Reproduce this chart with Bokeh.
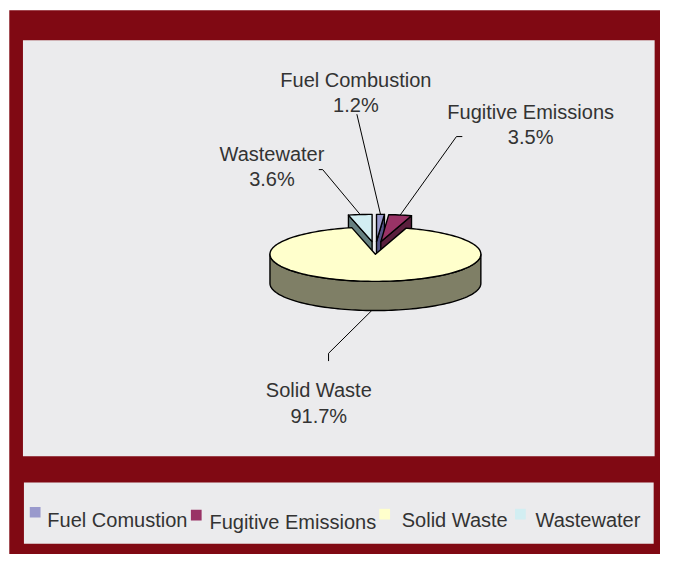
import math
from bokeh.plotting import figure
from bokeh.models import Range1d, ColumnDataSource
from bokeh.core.properties import value
from bokeh.embed import file_html
from bokeh.resources import INLINE

# ---- data ----
categories = ["Fuel Combustion", "Fugitive Emissions", "Solid Waste", "Wastewater"]
legend_labels = ["Fuel Comustion", "Fugitive Emissions", "Solid Waste", "Wastewater"]
shares = [1.2, 3.5, 91.7, 3.6]
exploded = [True, True, False, True]
top_colors = ["#9999CC", "#993366", "#FFFFCC", "#D2EEF2"]
side_colors = ["#55558A", "#5A1F3D", "#7F7F66", "#668080"]

FONT = value("Liberation Sans")
TEXT_COLOR = "#333333"

p = figure(width=660, height=554, output_backend="svg", toolbar_location=None,
           x_range=Range1d(0, 676), y_range=Range1d(570, 0), min_border=0)
p.axis.visible = False
p.grid.visible = False
p.outline_line_color = None
p.background_fill_color = "white"
p.border_fill_color = "white"

# frame and panels
p.quad(left=[9], right=[676], top=[10], bottom=[570], fill_color="#800913", line_color=None)
p.quad(left=[23], right=[670], top=[41], bottom=[469], fill_color="#EBEBED", line_color=None)
p.quad(left=[24], right=[669], top=[496], bottom=[559], fill_color="#EBEBED", line_color=None)

# ---- 3D pie geometry ----
cx, cy, rx, ry, depth = 384.0, 261.0, 108.0, 28.0, 30.0
ex_x, ex_y = 30.0, 13.0   # explosion distance (screen px, x and y)

total = sum(shares)
angles = []
a = 0.0
for v in shares:
    span = v / total * 360.0
    angles.append((a, a + span))
    a += span


def P(theta, r, ox, oy, h):
    t = math.radians(theta)
    return (cx + ox + rx * r * math.sin(t), cy + oy - ry * r * math.cos(t) + h)


def arc(a0, a1, ox, oy, h, n=None):
    if n is None:
        n = max(2, int(abs(a1 - a0) / 2) + 2)
    pts = [P(a0 + (a1 - a0) * k / (n - 1), 1.0, ox, oy, h) for k in range(n)]
    return pts


xs, ys, fills = [], [], []


def add(poly, color):
    xs.append([q[0] for q in poly])
    ys.append([q[1] for q in poly])
    fills.append(color)


info = []
for i, (a0, a1) in enumerate(angles):
    mid = (a0 + a1) / 2
    if exploded[i]:
        ox = ex_x * math.sin(math.radians(mid))
        oy = -ex_y * math.cos(math.radians(mid))
    else:
        ox = oy = 0.0
    info.append((i, a0, a1, mid, ox, oy))

# painter's order: exploded slices from back to front, then the big slice
order = sorted(info, key=lambda s: (not exploded[s[0]], -math.cos(math.radians(s[3]))))

for (i, a0, a1, mid, ox, oy) in order:
    apex_t = (cx + ox, cy + oy)
    apex_b = (cx + ox, cy + oy + depth)
    # radial walls
    if math.sin(math.radians(a0)) < -1e-6:
        add([apex_t, P(a0, 1, ox, oy, 0), P(a0, 1, ox, oy, depth), apex_b], side_colors[i])
    if math.sin(math.radians(a1)) > 1e-6:
        add([apex_t, P(a1, 1, ox, oy, 0), P(a1, 1, ox, oy, depth), apex_b], side_colors[i])
    # outer curved side (front half only)
    s0, s1 = max(a0, 90.0), min(a1, 270.0)
    if s1 > s0:
        top = arc(s0, s1, ox, oy, 0)
        bot = arc(s0, s1, ox, oy, depth)
        add(top + bot[::-1], side_colors[i])
    # top face
    add([apex_t] + arc(a0, a1, ox, oy, 0), top_colors[i])

src = ColumnDataSource(dict(xs=xs, ys=ys, fill=fills))
p.patches("xs", "ys", source=src, fill_color="fill", line_color="black",
          line_width=1.4, line_join="round")

# ---- labels with leader lines ----
label_layout = {
    0: dict(x=364, y1=82, y2=108, path=[(365, 117)]),
    1: dict(x=543, y1=115, y2=140, path=[(473, 140), (467, 140)]),
    2: dict(x=326, y1=401, y2=427, path=[(336, 371), (336, 363)]),
    3: dict(x=278, y1=158, y2=184, path=[(326, 174), (330, 174)]),
}

for (i, a0, a1, mid, ox, oy) in info:
    lay = label_layout[i]
    if exploded[i]:
        end = P(mid, 1, ox, oy, 0)
    else:
        end = P(mid, 1, ox, oy, depth)
    path = lay["path"] + [end]
    p.line([q[0] for q in path], [q[1] for q in path], line_color="black", line_width=1)
    p.text(x=[lay["x"]], y=[lay["y1"]], text=[categories[i]], text_font=FONT,
           text_font_size="20px", text_color=TEXT_COLOR, text_align="center",
           text_baseline="alphabetic")
    p.text(x=[lay["x"]], y=[lay["y2"]], text=[f"{shares[i]}%"], text_font=FONT,
           text_font_size="20px", text_color=TEXT_COLOR, text_align="center",
           text_baseline="alphabetic")

# ---- legend ----
leg_sq_x = [30, 195, 388, 527]
leg_sq_y = [521, 524, 523, 523]
leg_tx_x = [48, 214, 411, 548]
leg_tx_y = [534, 537, 535, 535]
p.quad(left=leg_sq_x, right=[v + 11 for v in leg_sq_x], top=leg_sq_y,
       bottom=[v + 11 for v in leg_sq_y], fill_color=top_colors, line_color=None)
p.text(x=leg_tx_x, y=leg_tx_y, text=legend_labels, text_font=FONT,
       text_font_size="20px", text_color=TEXT_COLOR, text_align="left",
       text_baseline="alphabetic")

open("out.html", "w").write(file_html(p, INLINE))
